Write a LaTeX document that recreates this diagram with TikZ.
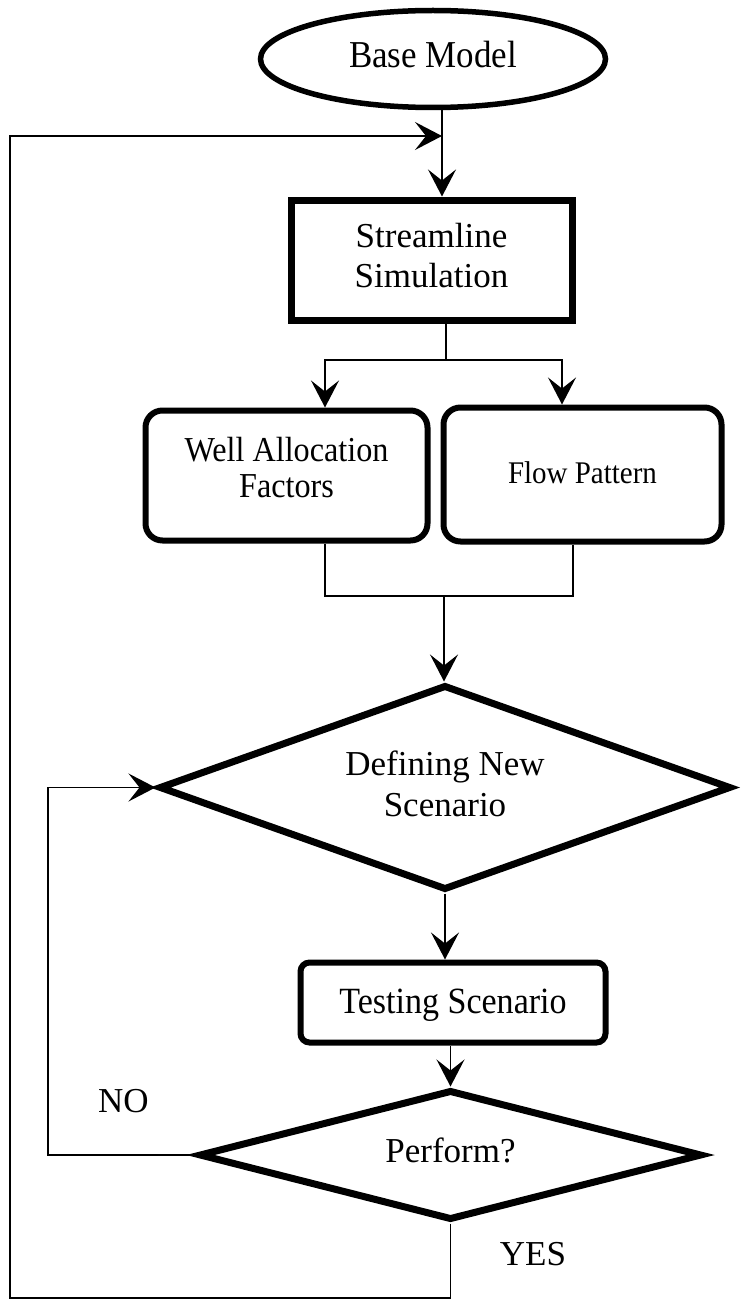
\documentclass[tikz,border=0pt]{standalone}
\usepackage{fontspec}
\setmainfont{Liberation Serif}
\newfontfamily\narrowfont{Liberation Serif}[FakeStretch=0.92]
\usetikzlibrary{shapes.geometric,arrows.meta,calc}
\newcommand{\mytwolines}[3]{\begin{tabular}[t]{@{}c@{}}#1\\[#3]#2\end{tabular}}
\begin{document}
\begin{tikzpicture}[x=1pt,y=-1pt,
  every node/.style={font=\fontsize{35}{40}\selectfont, inner sep=0pt},
  conn/.style={line width=1.6pt},
  arr/.style={conn,-{Stealth[length=27pt,width=28pt,inset=11pt]}},
  startbox/.style={ellipse,draw,line width=5.5pt},
  simbox/.style={rectangle,draw,line width=7pt},
  roundbox/.style={rectangle,draw,line width=6pt,rounded corners=17pt},
  smallround/.style={rectangle,draw,line width=6pt,rounded corners=9pt},
  decision/.style={diamond,draw,line width=7pt},
]
\useasboundingbox (0,0) rectangle (741,1300);

\node[startbox, minimum width=345pt, minimum height=97pt, text height=25pt, text depth=7pt, font=\narrowfont\fontsize{38}{42}\selectfont] (base) at (433,59) {Base Model};
\node[simbox, minimum width=281pt, minimum height=120pt, text height=24pt, text depth=50pt] (ss) at (431.5,260) {\mytwolines{Streamline}{Simulation}{0pt}};
\node[roundbox, minimum width=282pt, minimum height=130pt, text height=24pt, text depth=53pt, font=\narrowfont\fontsize{35}{40}\selectfont] (wa) at (286.5,475.5) {\mytwolines{Well Allocation}{Factors}{-4pt}};
\node[roundbox, minimum width=278pt, minimum height=134pt, text height=22pt, text depth=5pt, font=\narrowfont\fontsize{31.5}{36}\selectfont] (fp) at (582.5,474.5) {Flow Pattern};
\node[decision, shape aspect=2.8, minimum width=572pt, minimum height=205pt, text height=24pt, text depth=49pt] (dn) at (445,787.5) {\mytwolines{Defining New}{Scenario}{1pt}};
\node[smallround, minimum width=305pt, minimum height=80pt, text height=25pt, text depth=4pt, font=\narrowfont\fontsize{37}{42}\selectfont] (ts) at (453,1002.5) {Testing Scenario};
\node[decision, shape aspect=3.9, minimum width=503pt, minimum height=130pt, text height=24pt, text depth=10pt] (per) at (450.5,1155) {Perform?};
\node[anchor=base] (no) at (123.5,1112) {NO};
\node[anchor=base] (yes) at (533,1265) {YES};

\coordinate (top) at (442,136);
\draw[arr] (base.south -| top) -- (top |- ss.north);

\coordinate (split) at (446,360);
\coordinate (sl) at (325,360);
\coordinate (sr) at (562,360);
\draw[conn] (ss.south -| split) -- (split);
\draw[arr] (split) -- (sl) -- (sl |- wa.north);
\draw[arr] (split) -- (sr) -- (sr |- fp.north);

\coordinate (ml) at (325,596);
\coordinate (mr) at (573,596);
\coordinate (mm) at (444,596);
\draw[conn] (wa.south -| ml) -- (ml) -- (mr) -- (fp.south -| mr);
\draw[arr] (mm) -- (mm |- dn.north);

\draw[arr] (dn.south) -- (dn.south |- ts.north);
\draw[arr] (ts.south -| per.north) -- (per.north);

\coordinate (nl) at (48,1155);
\draw[arr] (per.west) -- (per.west -| nl) -- (nl |- dn.west) -- (dn.west);

\coordinate (lb) at (10,1298);
\draw[arr] (per.south) -- (per.south |- lb) -- (lb) -- (lb |- top) -- (top);
\end{tikzpicture}
\end{document}
